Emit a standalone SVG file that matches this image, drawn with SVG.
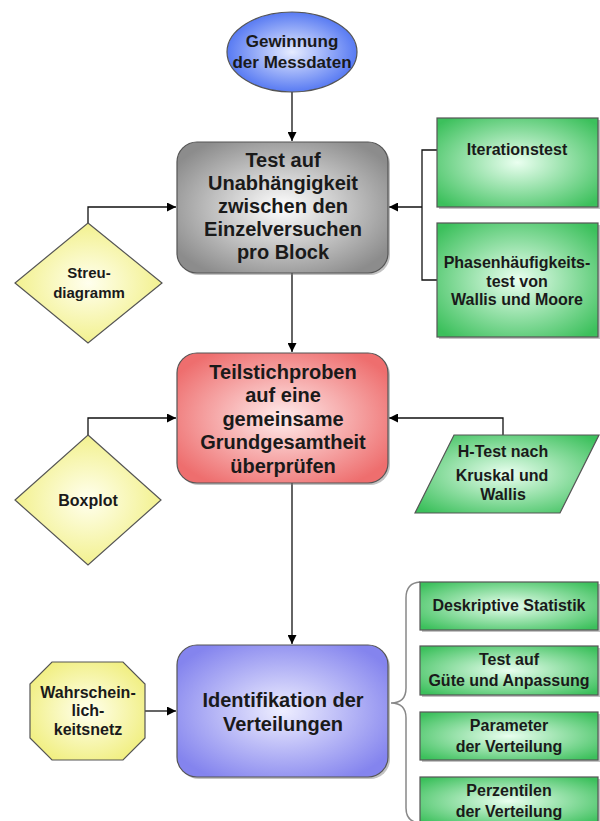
<svg xmlns="http://www.w3.org/2000/svg" width="600" height="821" viewBox="0 0 600 821">
<defs>
<radialGradient id="gBlue" cx="50%" cy="50%" r="60%"><stop offset="0" stop-color="#e6ecff"/><stop offset="1" stop-color="#3c64f0"/></radialGradient>
<radialGradient id="gGrey" cx="50%" cy="50%" r="60%"><stop offset="0" stop-color="#ffffff"/><stop offset="1" stop-color="#8c8c8c"/></radialGradient>
<radialGradient id="gRed" cx="50%" cy="50%" r="60%"><stop offset="0" stop-color="#ffecec"/><stop offset="1" stop-color="#ee6e6e"/></radialGradient>
<radialGradient id="gViolet" cx="50%" cy="50%" r="60%"><stop offset="0" stop-color="#eeeeff"/><stop offset="1" stop-color="#8484ee"/></radialGradient>
<radialGradient id="gGreen" cx="50%" cy="50%" r="65%"><stop offset="0" stop-color="#eafff0"/><stop offset="1" stop-color="#3cc05c"/></radialGradient>
<radialGradient id="gYellow" cx="50%" cy="50%" r="60%"><stop offset="0" stop-color="#ffffee"/><stop offset="1" stop-color="#f0ee7c"/></radialGradient>
<marker id="arr" viewBox="0 0 10 10" refX="10" refY="5" markerWidth="10" markerHeight="9" markerUnits="userSpaceOnUse" orient="auto"><path d="M0,0 L10,5 L0,10 z" fill="#000"/></marker>
</defs>
<style>
text{font-family:"Liberation Sans",Arial,sans-serif;font-weight:bold;fill:#1a1a1a;text-anchor:middle}
.t20{font-size:20px}
.t17{font-size:17px}
.t16{font-size:16px}
.t15{font-size:15px}
.shape{stroke:#555;stroke-width:1.2}
.shadow{fill:#777;opacity:0.45}
.conn{fill:none;stroke:#111;stroke-width:1.3}
.brace{fill:none;stroke:#888;stroke-width:1.5}
</style>
<rect width="600" height="821" fill="#fff"/>

<g id="connectors">
<path class="conn" d="M292,92 V141" marker-end="url(#arr)"/>
<path class="conn" d="M292,273 V352" marker-end="url(#arr)"/>
<path class="conn" d="M292,483 V644" marker-end="url(#arr)"/>
<path class="conn" d="M437,150 H422 V280 H437"/>
<path class="conn" d="M422,207 H389" marker-end="url(#arr)"/>
<path class="conn" d="M88,223 V207 H176" marker-end="url(#arr)"/>
<path class="conn" d="M503,435 V418 H389" marker-end="url(#arr)"/>
<path class="conn" d="M88,435 V418 H176" marker-end="url(#arr)"/>
<path class="conn" d="M145,711 H176" marker-end="url(#arr)"/>
<path class="brace" d="M420,582 Q406,583 406,598 V688 Q406,703 391,703 Q406,703 406,718 V808 Q406,822 420,823"/>
</g>

<g id="n-messdaten">
<ellipse class="shape" cx="292" cy="52" rx="65" ry="40" fill="url(#gBlue)"/>
<text class="t17" x="292" y="47">Gewinnung</text>
<text class="t17" x="292" y="68">der Messdaten</text>
</g>

<g id="n-unabhaengigkeit">
<rect class="shadow" x="179" y="144" width="211" height="131" rx="20"/>
<rect class="shape" x="177" y="142" width="211" height="131" rx="20" fill="url(#gGrey)"/>
<text class="t20" x="283" y="167">Test auf</text>
<text class="t20" x="283" y="190">Unabhängigkeit</text>
<text class="t20" x="283" y="213">zwischen den</text>
<text class="t20" x="283" y="236">Einzelversuchen</text>
<text class="t20" x="283" y="259">pro Block</text>
</g>

<g id="n-iterationstest">
<rect class="shadow" x="439" y="120" width="161" height="89"/>
<rect class="shape" x="437" y="118" width="161" height="89" fill="url(#gGreen)"/>
<text class="t16" x="517" y="155">Iterationstest</text>
</g>

<g id="n-phasen">
<rect class="shadow" x="439" y="225" width="161" height="114"/>
<rect class="shape" x="437" y="223" width="161" height="114" fill="url(#gGreen)"/>
<text class="t16" x="517" y="268">Phasenhäufigkeits-</text>
<text class="t16" x="517" y="287">test von</text>
<text class="t16" x="517" y="305">Wallis und Moore</text>
</g>

<g id="n-streu">
<polygon class="shape" points="88,223 162,283 88,343 15,283" fill="url(#gYellow)"/>
<text class="t15" x="89" y="278">Streu-</text>
<text class="t15" x="89" y="298">diagramm</text>
</g>

<g id="n-teilstichproben">
<rect class="shadow" x="179" y="355" width="211" height="130" rx="20"/>
<rect class="shape" x="177" y="353" width="211" height="130" rx="20" fill="url(#gRed)"/>
<text class="t20" x="283" y="379">Teilstichproben</text>
<text class="t20" x="283" y="402">auf eine</text>
<text class="t20" x="283" y="426">gemeinsame</text>
<text class="t20" x="283" y="449">Grundgesamtheit</text>
<text class="t20" x="283" y="473">überprüfen</text>
</g>

<g id="n-htest">
<polygon class="shape" points="454,435 599,435 560,513 415,513" fill="url(#gGreen)"/>
<text class="t16" x="503" y="457">H-Test nach</text>
<text class="t16" x="502" y="481">Kruskal und</text>
<text class="t16" x="503" y="500">Wallis</text>
</g>

<g id="n-boxplot">
<polygon class="shape" points="88,435 161,500 88,565 15,500" fill="url(#gYellow)"/>
<text class="t16" x="88" y="506">Boxplot</text>
</g>

<g id="n-identifikation">
<rect class="shadow" x="179" y="647" width="211" height="132" rx="20"/>
<rect class="shape" x="177" y="645" width="211" height="132" rx="20" fill="url(#gViolet)"/>
<text class="t20" x="283" y="707">Identifikation der</text>
<text class="t20" x="283" y="731">Verteilungen</text>
</g>

<g id="n-wahrscheinlichkeitsnetz">
<polygon class="shape" points="52,662 123,662 145,684 145,738 123,760 52,760 30,738 30,684" fill="url(#gYellow)"/>
<text class="t16" x="88" y="698">Wahrschein-</text>
<text class="t16" x="88" y="716">lich-</text>
<text class="t16" x="88" y="735">keitsnetz</text>
</g>

<g id="n-deskriptiv">
<rect class="shadow" x="422" y="584" width="178" height="48"/>
<rect class="shape" x="420" y="582" width="178" height="48" fill="url(#gGreen)"/>
<text class="t16" x="509" y="611">Deskriptive Statistik</text>
</g>

<g id="n-guete">
<rect class="shadow" x="422" y="648" width="178" height="49"/>
<rect class="shape" x="420" y="646" width="178" height="49" fill="url(#gGreen)"/>
<text class="t16" x="509" y="665">Test auf</text>
<text class="t16" x="509" y="686">Güte und Anpassung</text>
</g>

<g id="n-parameter">
<rect class="shadow" x="422" y="714" width="178" height="48"/>
<rect class="shape" x="420" y="712" width="178" height="48" fill="url(#gGreen)"/>
<text class="t16" x="509" y="731">Parameter</text>
<text class="t16" x="509" y="752">der Verteilung</text>
</g>

<g id="n-perzentilen">
<rect class="shadow" x="422" y="779" width="178" height="48"/>
<rect class="shape" x="420" y="777" width="178" height="48" fill="url(#gGreen)"/>
<text class="t16" x="509" y="796">Perzentilen</text>
<text class="t16" x="509" y="817">der Verteilung</text>
</g>
</svg>
